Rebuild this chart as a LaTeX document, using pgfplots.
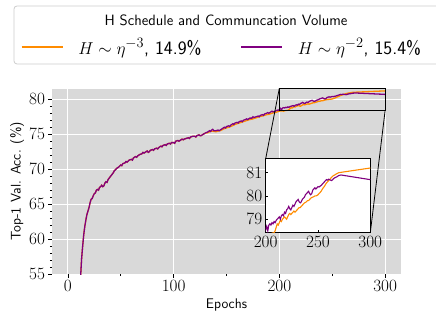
\documentclass[border=0pt]{standalone}
\usepackage{pgfplots}
\pgfplotsset{compat=1.18}
\usepackage{pgfplotstable}
\definecolor{bgc}{RGB}{217,217,217}
\definecolor{corange}{RGB}{255,140,0}
\definecolor{cpurple}{RGB}{128,0,128}
\definecolor{lgb}{RGB}{204,204,204}

\pgfplotstableread{
x y
11 51.5
12 54.5
13 57.2
14 59.0
15 60.6
16 61.8
17 62.7
18 63.5
19 64.0
20 64.5
21 65.2
22 65.7
23 65.8
24 66.2
25 66.5
26 66.6
27 67.0
28 67.1
29 67.0
30 67.4
31 67.5
32 67.7
33 67.5
34 67.6
35 68.0
36 68.2
37 68.1
38 68.5
39 68.7
40 68.9
41 69.1
42 69.3
43 69.5
44 69.8
45 69.9
46 70.1
47 70.2
48 70.3
50 70.6
51 70.5
52 70.8
54 70.9
55 71.1
56 71.0
58 71.3
60 71.4
61 71.3
62 71.6
64 71.8
65 71.7
66 71.9
68 72.1
70 72.2
71 72.4
72 72.3
74 72.5
75 72.6
76 72.4
77 72.5
78 72.7
80 72.8
81 72.7
82 72.9
84 73.0
85 72.9
86 73.1
88 73.3
89 73.2
90 73.4
92 73.5
93 73.4
94 73.6
96 73.7
97 73.6
98 73.8
100 73.8
101 73.7
102 74.0
104 74.1
105 74.0
106 74.1
108 74.3
109 74.2
110 74.3
112 74.4
114 74.5
115 74.4
116 74.6
118 74.7
120 74.7
121 74.6
122 74.8
124 74.9
125 74.8
126 74.8
128 75.0
130 75.15
}\early

\pgfplotstableread{
x y
130 75.2
132 75.3
134 75.5
135 75.4
136 75.6
137 75.7
138 75.5
140 75.5
142 75.6
143 75.5
144 75.6
146 75.8
148 76.0
149 75.9
150 76.1
152 76.2
153 76.1
154 76.3
156 76.5
157 76.4
158 76.6
160 76.7
161 76.6
162 76.8
164 76.9
165 76.8
166 77.0
168 77.1
169 77.2
170 77.1
172 77.3
174 77.3
175 77.5
176 77.4
178 77.5
180 77.6
181 77.5
182 77.7
184 77.8
185 77.7
186 77.9
188 78.0
189 78.1
190 78.0
192 78.2
193 78.3
194 78.2
196 78.3
198 78.45
199 78.4
200 78.55
201 78.7
202 78.5
203 78.75
204 78.8
205 78.75
206 78.85
207 78.8
208 78.9
209 78.85
210 78.95
212 79.05
213 79.1
214 79.0
215 79.15
216 79.2
217 79.15
218 79.3
219 79.25
220 79.4
221 79.45
222 79.55
223 79.45
224 79.4
225 79.5
226 79.6
227 79.55
228 79.65
229 79.75
230 79.8
231 79.85
232 79.75
233 79.7
234 79.75
235 79.85
236 79.9
237 79.95
238 80.05
239 80.1
240 80.15
241 80.2
242 80.1
243 80.05
244 80.1
245 80.25
246 80.3
247 80.35
248 80.3
249 80.35
250 80.4
251 80.38
252 80.42
253 80.45
254 80.5
255 80.55
256 80.6
257 80.65
258 80.7
259 80.68
260 80.72
261 80.7
262 80.68
263 80.66
264 80.7
265 80.75
266 80.78
267 80.8
268 80.82
269 80.85
270 80.88
272 80.9
300 80.7
}\purplelate

\pgfplotstableread{
x y
130 75.15
132 75.2
134 75.35
136 75.45
138 75.4
140 75.35
142 75.45
144 75.5
146 75.65
148 75.8
150 75.9
152 76.0
154 76.1
156 76.25
158 76.4
160 76.5
162 76.6
164 76.7
166 76.8
168 76.9
170 77.0
172 77.1
174 77.15
176 77.25
178 77.35
180 77.45
182 77.55
184 77.6
186 77.7
188 77.8
190 77.85
192 77.95
194 78.05
196 78.1
198 78.2
200 78.3
202 78.35
204 78.3
206 78.4
208 78.42
209 78.5
210 78.65
211 78.8
212 78.75
213 78.85
214 78.95
215 78.9
216 79.0
217 79.05
218 79.1
219 79.05
220 79.0
221 79.1
222 79.2
223 79.25
224 79.2
225 79.25
226 79.3
227 79.35
228 79.3
229 79.35
230 79.4
231 79.45
232 79.5
233 79.5
234 79.55
235 79.6
236 79.65
237 79.7
238 79.72
239 79.75
240 79.8
241 79.8
242 79.85
243 79.9
244 79.93
245 79.95
246 79.97
247 80.0
248 80.0
249 80.02
250 80.05
251 80.1
252 80.15
253 80.2
254 80.28
255 80.35
256 80.4
257 80.48
258 80.55
259 80.6
260 80.65
261 80.7
262 80.75
263 80.8
264 80.85
265 80.88
266 80.9
267 80.93
268 80.96
269 80.98
270 81.0
300 81.2
}\orangelate

\begin{document}
\begin{tikzpicture}
\useasboundingbox (0,0) rectangle (436bp,316bp);
\draw[lgb, line width=0.8bp, rounded corners=3bp, fill=white] (14bp,252bp) rectangle (450bp,310bp);
\node[font=\sffamily\fontsize{15}{17}\selectfont] at (226bp,296bp) {H Schedule and Communcation Volume};
\begin{axis}[
  name=main, at={(52bp,42bp)}, anchor=south west,
  scale only axis, width=349bp, height=185bp,
  xmin=-15, xmax=315, ymin=55, ymax=81.47,
  axis x line*=bottom, axis y line*=left,
  axis line style={draw=none},
  axis background/.style={fill=bgc},
  xtick={0,100,200,300}, minor xtick={50,150,250},
  ytick={55,60,65,70,75,80}, minor y tick num=4,
  grid=major, major grid style={white, line width=1bp},
  tick align=outside, major tick length=3.5bp, minor tick length=2bp,
  tick style={black, line width=0.6bp},
  tick label style={font=\fontsize{18.5}{20}\selectfont},
  xticklabel style={yshift=1bp},
  xlabel={Epochs}, ylabel={Top-1 Val. Acc. (\%)},
  label style={font=\sffamily\fontsize{14}{16}\selectfont},
  xlabel style={at={(axis description cs:0.5,-0.168)}, anchor=center},
  ylabel style={at={(axis description cs:-0.100,0.5)}, anchor=center},
  legend columns=2,
  legend style={at={(axis description cs:-0.0888,1.227)}, anchor=west, draw=none, fill=none,
    inner sep=0pt, outer sep=0pt,
    font=\sffamily\fontsize{19}{21}\selectfont, nodes={inner sep=0pt, outer sep=0pt},
    /tikz/every odd column/.append style={column sep=15bp},
    /tikz/every even column/.append style={column sep=39bp}},
  legend image code/.code={\draw[#1] (0bp,0bp) -- (41bp,0bp);},
]
\addplot[corange, line width=1.3bp, forget plot] table[x=x,y=y] {\early};
\addplot[corange, line width=1.3bp] table[x=x,y=y] {\orangelate};
\addlegendentry{$H\sim\eta^{-3}$, 14.9\%}
\addplot[cpurple, line width=1.3bp, forget plot] table[x=x,y=y] {\early};
\addplot[cpurple, line width=1.3bp] table[x=x,y=y] {\purplelate};
\addlegendentry{$H\sim\eta^{-2}$, 15.4\%}
\draw[black, line width=0.8bp] (axis cs:200,78.42) rectangle (axis cs:300,81.6);
\coordinate (rtl) at (axis cs:200,81.6);
\coordinate (rbr) at (axis cs:300,78.42);
\end{axis}
\begin{axis}[
  name=inset, at={(265.7bp,83.3bp)}, anchor=south west,
  scale only axis, width=104.6bp, height=74bp,
  xmin=200, xmax=300, ymin=78.42, ymax=81.6,
  xtick={200,250,300}, ytick={79,80,81},
  axis background/.style={fill=white},
  axis line style={black, line width=0.8bp},
  tick align=inside, major tick length=2.5bp,
  tick style={black, line width=0.6bp},
  xtick pos=bottom, ytick pos=left,
  tick label style={font=\fontsize{18.5}{20}\selectfont},
]
\addplot[corange, line width=1.1bp] table[x=x,y=y] {\orangelate};
\addplot[cpurple, line width=1.1bp] table[x=x,y=y] {\purplelate};
\end{axis}
\draw[black, line width=0.8bp] (rtl) -- (inset.north west);
\draw[black, line width=0.8bp] (rbr) -- (inset.south east);
\end{tikzpicture}
\end{document}
